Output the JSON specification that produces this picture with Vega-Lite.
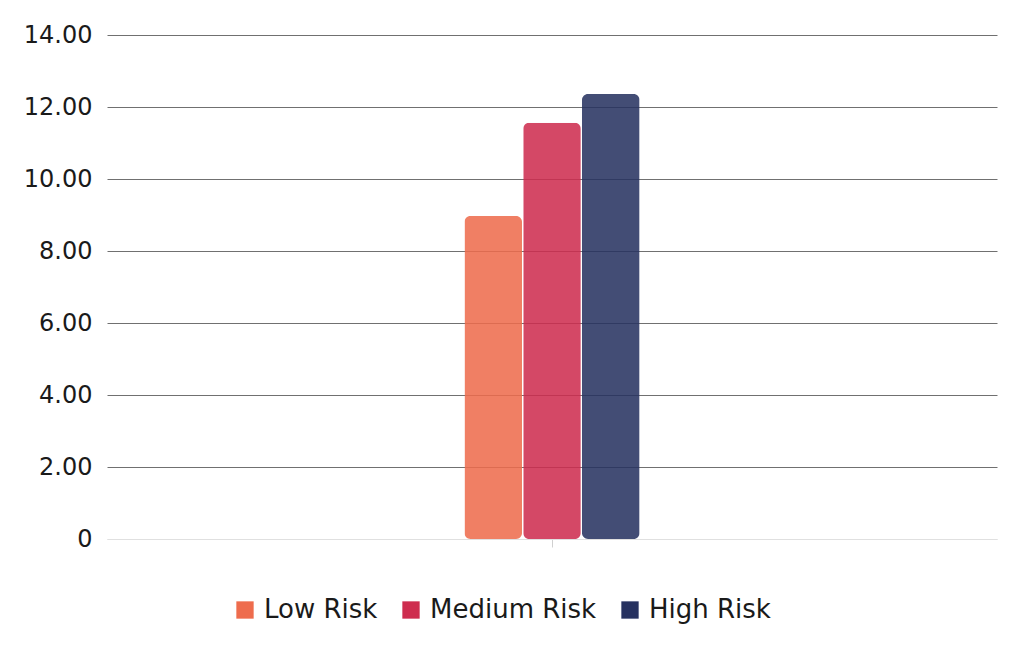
{
  "$schema": "https://vega.github.io/schema/vega-lite/v6.json",
  "width": 890,
  "height": 504,
  "autosize": "none",
  "padding": {"left": 107, "top": 35, "right": 27, "bottom": 123},
  "background": "white",
  "data": {
    "values": [
      {"group": "All", "risk": "Low Risk", "value": 8.97},
      {"group": "All", "risk": "Medium Risk", "value": 11.56},
      {"group": "All", "risk": "High Risk", "value": 12.36}
    ]
  },
  "mark": {"type": "bar", "cornerRadius": 6, "fillOpacity": 0.87},
  "encoding": {
    "x": {
      "field": "group",
      "type": "nominal",
      "scale": {"paddingInner": 0.51, "paddingOuter": 1},
      "axis": {
        "labels": false,
        "title": null,
        "domainColor": "#e0e0e0",
        "tickColor": "#d0d0d0",
        "tickSize": 8
      }
    },
    "xOffset": {
      "field": "risk",
      "type": "nominal",
      "sort": ["Low Risk", "Medium Risk", "High Risk"],
      "scale": {"paddingInner": 0.02, "paddingOuter": 0}
    },
    "y": {
      "field": "value",
      "type": "quantitative",
      "scale": {"domain": [0, 14], "nice": false},
      "axis": {
        "title": null,
        "values": [0, 2, 4, 6, 8, 10, 12, 14],
        "labelExpr": "datum.value == 0 ? '0' : format(datum.value, '.2f')",
        "domain": false,
        "ticks": false,
        "labelPadding": 15,
        "labelFont": "DejaVu Sans",
        "labelFontSize": 24,
        "labelColor": "#1a1a1a",
        "gridColor": {"condition": {"test": "datum.value === 0", "value": "#e0e0e0"}, "value": "#707070"},
        "gridWidth": 1
      }
    },
    "color": {
      "field": "risk",
      "type": "nominal",
      "scale": {
        "domain": ["Low Risk", "Medium Risk", "High Risk"],
        "range": ["#EE6C4D", "#CE2D4F", "#273260"]
      },
      "legend": {
        "title": null,
        "orient": "none",
        "legendX": 125,
        "legendY": 562,
        "direction": "horizontal",
        "symbolType": "square",
        "symbolSize": 300,
        "symbolOpacity": 1,
        "symbolStrokeWidth": 0,
        "labelFont": "DejaVu Sans",
        "labelFontSize": 26,
        "labelColor": "#1a1a1a",
        "labelOffset": 6,
        "columnPadding": 20,
        "labelLimit": 300
      }
    }
  },
  "config": {"view": {"stroke": null}}
}
